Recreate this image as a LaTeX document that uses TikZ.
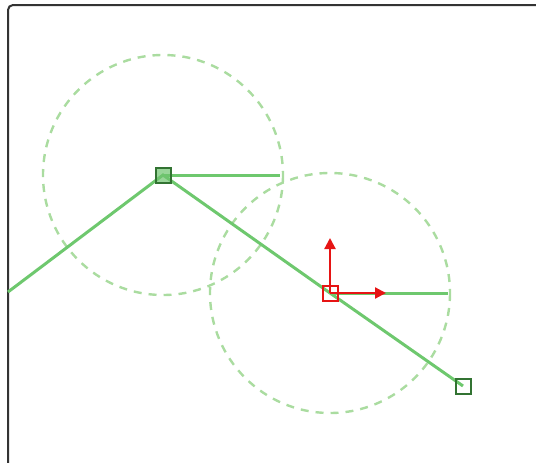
\documentclass[tikz,border=0pt]{standalone}
\usetikzlibrary{arrows.meta}
\definecolor{bone}{RGB}{110,200,110}
\definecolor{ring}{RGB}{170,220,160}
\definecolor{jointdark}{RGB}{50,115,50}
\definecolor{jointfill}{RGB}{110,195,110}
\definecolor{axisred}{RGB}{230,20,20}
\tikzset{
  bonestyle/.style={draw=bone, line width=3pt},
  ringstyle/.style={draw=ring, line width=2.4pt, dash pattern=on 8pt off 7pt},
  jointbox/.style={draw=jointdark, line width=2pt, minimum size=15pt, inner sep=0pt, rectangle},
  selbox/.style={draw=axisred, line width=2pt, minimum size=15pt, inner sep=0pt, rectangle},
  axisarrow/.style={draw=axisred, line width=2.2pt, -{Triangle[length=11pt,width=11pt]}},
}
\begin{document}
\begin{tikzpicture}[x=1pt,y=-1pt]
\useasboundingbox (0,0) rectangle (536,463);
\begin{scope}
\clip (0,0) rectangle (536,463);
\draw[black!80, line width=2pt, rounded corners=5pt] (8,480) -- (8,5) -- (560,5);
\end{scope}
\coordinate (start) at (8,292);
\coordinate (Aend) at (280,175);
\coordinate (Bend) at (448,293);
\coordinate (Bup) at (330,238);
\coordinate (Bright) at (386,293);
\coordinate (Apos) at (163,175);
\coordinate (Bpos) at (330,293);
\coordinate (Cpos) at (463,386);
\draw[ringstyle] (Apos) circle (120);
\draw[ringstyle] (Bpos) circle (120);
\draw[bonestyle] (start) -- (Apos) -- (Bpos) -- (Cpos);
\draw[bonestyle] (Apos) -- (Aend);
\draw[bonestyle] (Bpos) -- (Bend);
\node[jointbox, fill=jointfill, fill opacity=0.7] (A) at (Apos) {};
\node[jointbox] (C) at (Cpos) {};
\node[selbox] (B) at (Bpos) {};
\draw[axisarrow] (B.center) -- (Bup);
\draw[axisarrow] (B.center) -- (Bright);
\end{tikzpicture}
\end{document}
